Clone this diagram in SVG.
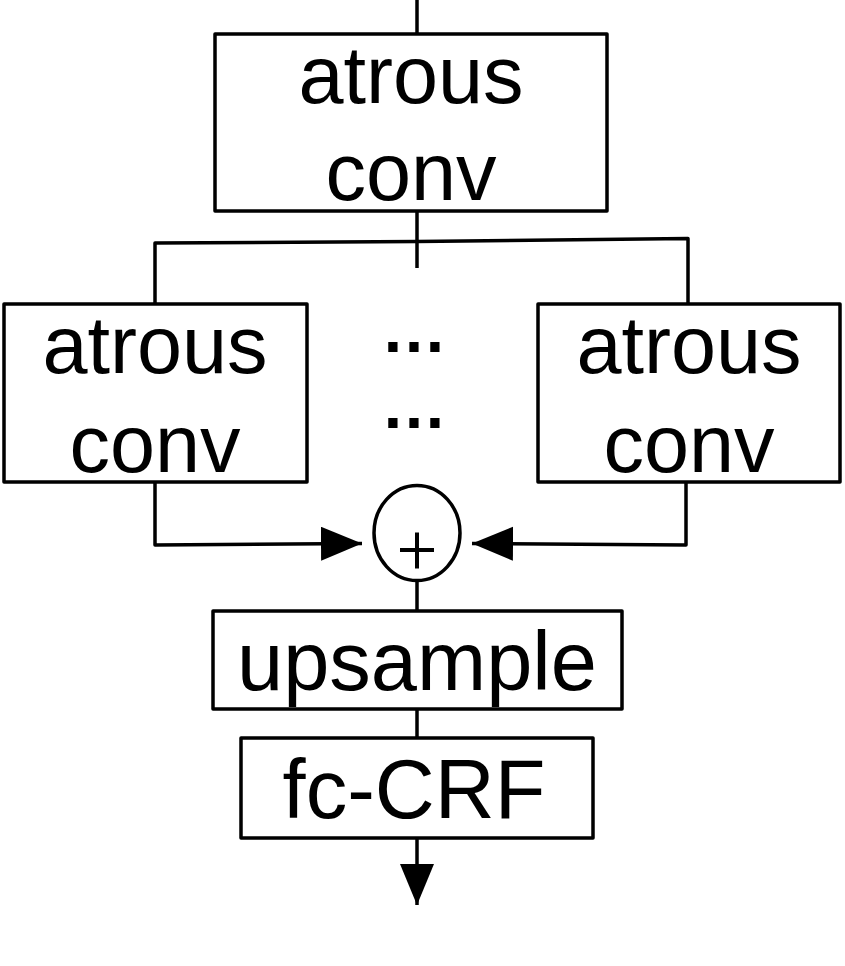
<svg xmlns="http://www.w3.org/2000/svg" width="845" height="966" viewBox="0 0 845 966">
<defs>
<style>
.box{fill:#fff;stroke:#000;stroke-width:3.5;stroke-linejoin:round}
.ln{fill:none;stroke:#000;stroke-width:3.5;stroke-linejoin:round}
.t{font-family:"Liberation Sans",Arial,Helvetica,sans-serif;font-size:81px;fill:#000;text-anchor:middle}
</style>
<marker id="ah" markerUnits="userSpaceOnUse" markerWidth="44" markerHeight="36" refX="41" refY="17" orient="auto">
<path d="M0,0 L41,17 L0,34 Z" fill="#000"/>
</marker>
</defs>
<rect width="845" height="966" fill="#fff"/>
<g id="connectors">
<line class="ln" x1="417" y1="0" x2="417" y2="34"/>
<line class="ln" x1="417" y1="211" x2="417" y2="268"/>
<polyline class="ln" points="155,304 155,243 417,241.5 688,238.5 688,304"/>
<polyline class="ln" points="155,482 155,545 362,543.5" marker-end="url(#ah)"/>
<polyline class="ln" points="686,482 686,545 472,543.5" marker-end="url(#ah)"/>
<line class="ln" x1="417" y1="581" x2="417" y2="611"/>
<line class="ln" x1="417" y1="709" x2="417" y2="738"/>
<line class="ln" x1="417" y1="838" x2="417" y2="905" marker-end="url(#ah)"/>
</g>
<g id="top-conv">
<rect class="box" x="215" y="34" width="392" height="177"/>
<text class="t" x="411" y="103">atrous</text>
<text class="t" x="411" y="200">conv</text>
</g>
<g id="left-conv">
<rect class="box" x="4" y="304" width="303" height="178"/>
<text class="t" x="155" y="373">atrous</text>
<text class="t" x="155" y="472">conv</text>
</g>
<g id="dots">
<text class="t" x="414" y="352" style="font-size:66px;font-weight:bold">…</text>
<text class="t" x="414" y="428" style="font-size:66px;font-weight:bold">…</text>
</g>
<g id="right-conv">
<rect class="box" x="538" y="304" width="302" height="178"/>
<text class="t" x="689" y="373">atrous</text>
<text class="t" x="689" y="472">conv</text>
</g>
<g id="sum">
<ellipse class="box" cx="417" cy="533" rx="43" ry="47.5"/>
<line class="ln" x1="400" y1="550" x2="434" y2="550" style="stroke-width:4"/>
<line class="ln" x1="417" y1="532.5" x2="417" y2="568.5" style="stroke-width:4"/>
</g>
<g id="upsample">
<rect class="box" x="213" y="611" width="409" height="98"/>
<text class="t" x="417" y="690" style="font-size:83px">upsample</text>
</g>
<g id="fc-crf">
<rect class="box" x="241" y="738" width="352" height="100"/>
<text class="t" x="414" y="818" style="font-size:83px">fc-CRF</text>
</g>
</svg>
